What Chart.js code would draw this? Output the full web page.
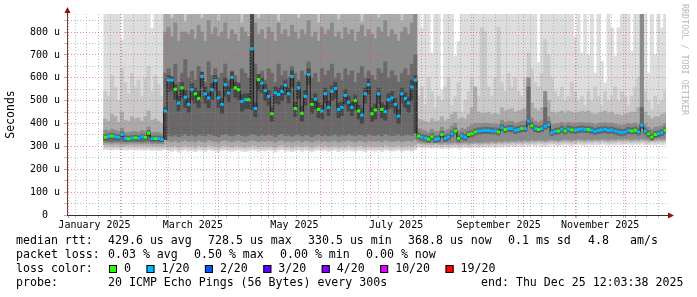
<!DOCTYPE html>
<html>
<head>
<meta charset="utf-8">
<script src="https://cdn.jsdelivr.net/npm/chart.js@4.4.1/dist/chart.umd.min.js"></script>
<style>
  html, body { margin: 0; padding: 0; background: #ffffff; }
  canvas { display: block; }
</style>
</head>
<body>
<canvas id="smokeChart" width="697" height="297"></canvas>
<script>
// days since 1 Jan 2025, one column every 2 days
const days = [
  22,24,26,28,30,32,34,36,38,40, 42,44,46,48,50,52,54,56,58,60,
  62,64,66,68,70,72,74,76,78,80, 82,84,86,88,90,92,94,96,98,100,
  102,104,106,108,110,112,114,116,118,120, 122,124,126,128,130,132,134,136,138,140,
  142,144,146,148,150,152,154,156,158,160, 162,164,166,168,170,172,174,176,178,180,
  182,184,186,188,190,192,194,196,198,200, 202,204,206,208,210,212,214,216,218,220,
  222,224,226,228,230,232,234,236,238,240, 242,244,246,248,250,252,254,256,258,260,
  262,264,266,268,270,272,274,276,278,280, 282,284,286,288,290,292,294,296,298,300,
  302,304,306,308,310,312,314,316,318,320, 322,324,326,328,330,332,334,336,338,340,
  342,344,346,348,350,352,354,356,358
];

// median rtt in microseconds
const medianRtt = [
  340,343,345,342,340,352,335,333,336,338,335,342,340,358,333,334,334,330,
  455,590,590,550,490,556,515,484,548,530,
  510,606,530,512,548,588,512,484,570,534,
  602,556,548,497,504,504,727,466,592,577,
  544,519,443,534,527,540,567,530,606,466,
  556,445,519,614,484,507,462,455,530,471,
  541,553,462,471,523,493,471,500,455,437,
  530,570,443,459,530,462,452,504,512,484,
  433,530,510,490,560,590,
  345,340,336,331,342,331,333,352,335,341,
  355,367,335,345,340,352,355,363,367,368,
  370,370,367,367,363,382,374,378,378,370,
  374,378,378,410,390,378,374,378,388,395,
  360,365,367,375,367,376,372,370,374,376,
  374,374,370,365,370,372,374,370,372,367,
  363,360,363,370,367,370,363,392,367,355,
  341,352,355,360,370
];

// lost pings per column (0 -> 0/20, 1 -> 1/20)
const lossCount = [
  0,1,0,1,1,1,1,0,1,0,1,1,0,0,1,0,1,1,
  1,1,1,0,1,0,1,1,1,0,
  0,1,1,1,1,1,1,1,1,1,
  1,0,0,1,1,0,1,1,0,1,
  1,1,0,1,1,1,1,1,1,0,
  1,0,1,1,0,1,0,1,1,1,
  1,1,1,1,1,1,1,0,0,1,
  1,1,0,0,1,0,1,1,1,1,
  1,1,1,1,1,1,
  0,1,1,0,0,1,1,0,1,1,
  1,0,0,1,1,0,0,0,1,1,
  1,1,1,1,0,1,0,1,1,1,
  1,0,1,1,0,1,0,1,1,1,
  1,1,0,1,0,1,0,1,1,1,
  1,0,1,1,1,1,1,1,1,1,
  1,1,1,1,0,0,1,1,1,0,
  0,0,1,1,0
];

// smoke bands (lowest / highest ping of each band), outermost first
const smokeALo = [
  286,285,284,286,285,284,283,285,286,284,285,283,284,285,282,283,281,282,
  288,280,278,282,276,280,284,279,281,277,
  283,280,278,285,281,279,276,282,284,280,
  278,281,283,279,277,280,284,282,278,281,
  279,283,280,276,282,285,279,281,277,280,
  283,278,282,280,276,281,284,279,282,278,
  280,283,277,281,279,284,280,278,282,281,
  277,283,280,279,282,278,284,281,279,280,
  283,278,281,282,279,285,
  296,294,292,293,291,294,292,290,293,291,
  292,294,291,293,295,292,294,296,293,295,
  297,295,298,296,299,297,300,298,301,299,
  302,300,303,301,304,302,305,303,301,304,
  306,304,302,305,307,305,303,306,308,306,
  304,307,305,308,306,309,307,305,308,306,
  309,307,310,308,306,309,307,310,308,306,
  309,307,310,308,309
];
const smokeAHi = [
  879,879,879,879,879,766,879,879,879,879,879,879,879,879,817,879,879,879,
  879,879,879,879,879,879,879,879,879,879,
  879,879,879,879,879,879,879,879,879,879,
  879,879,879,879,879,879,879,879,879,879,
  879,879,879,879,879,879,879,879,879,879,
  879,879,879,879,879,879,879,879,879,879,
  879,879,879,879,879,879,879,879,879,879,
  879,879,879,879,879,879,879,879,879,879,
  879,879,879,879,879,879,
  879,818,879,879,709,879,879,548,879,879,
  879,694,759,879,879,879,879,879,879,879,
  879,879,879,879,879,879,879,879,879,879,
  879,879,879,879,879,879,667,879,879,879,
  879,879,879,879,879,879,879,778,879,709,
  879,701,879,621,879,672,578,879,818,694,
  818,879,879,879,716,879,879,879,879,621,
  879,701,879,818,879
];
const smokeBLo = [
  295,294,293,295,294,292,293,294,295,293,294,292,293,294,291,292,290,291,
  293,289,288,291,286,290,293,289,291,287,
  292,290,288,294,290,289,286,291,293,290,
  288,291,292,289,287,290,293,291,288,290,
  289,292,290,286,291,294,289,290,287,290,
  292,288,291,290,286,290,293,289,291,288,
  290,292,287,290,289,293,290,288,291,290,
  287,292,290,289,291,288,293,290,289,290,
  292,288,290,291,289,294,
  304,302,300,301,299,302,300,298,301,299,
  300,302,299,301,303,300,302,304,301,303,
  305,303,306,304,307,305,308,306,309,307,
  310,308,311,309,312,310,313,311,309,312,
  314,312,310,313,315,313,311,314,316,314,
  312,315,313,316,314,317,315,313,316,314,
  317,315,318,316,314,317,315,318,316,314,
  317,315,318,316,317
];
const smokeBHi = [
  540,520,610,560,500,640,580,530,620,560,590,520,600,650,540,610,570,520,
  879,879,879,879,879,879,879,879,879,879,
  879,879,879,879,879,879,879,879,879,879,
  879,879,879,879,879,879,879,879,879,879,
  879,879,879,879,879,879,879,879,879,879,
  879,879,879,879,879,879,879,879,879,879,
  879,879,879,879,879,879,879,879,879,879,
  879,879,879,879,879,879,879,879,879,879,
  879,879,879,879,879,879,
  520,560,480,600,540,470,520,500,560,600,
  480,520,580,450,500,540,600,560,520,818,
  800,560,520,600,820,580,540,620,560,600,
  540,520,600,709,640,580,560,620,767,700,
  600,540,520,560,500,520,580,540,500,520,
  480,540,500,560,520,480,540,500,520,560,
  500,540,520,480,520,560,600,879,540,500,
  460,520,480,500,540
];
const smokeCLo = [
  306,305,304,306,305,304,304,305,306,304,305,303,304,305,302,303,302,302,
  306,300,299,303,297,301,305,300,302,298,
  304,301,299,306,302,300,297,303,305,301,
  299,302,304,300,298,301,305,303,299,302,
  300,304,301,297,303,306,300,302,298,301,
  304,299,303,301,297,302,305,300,303,299,
  301,304,298,302,300,305,301,299,303,302,
  298,304,301,300,303,299,305,302,300,301,
  304,299,302,303,300,306,
  312,310,308,309,307,310,308,306,309,307,
  308,310,307,309,311,308,310,312,309,311,
  313,311,314,312,315,313,316,314,317,315,
  318,316,319,317,320,318,321,319,317,320,
  322,320,318,321,323,321,319,322,324,322,
  320,323,321,324,322,325,323,321,324,322,
  325,323,326,324,322,325,323,326,324,322,
  325,323,326,324,325
];
const smokeCHi = [
  420,410,440,430,405,450,415,410,430,420,425,410,430,455,415,420,410,400,
  879,879,860,879,879,879,845,879,879,879,
  879,860,879,879,879,879,850,879,879,879,
  879,879,879,840,879,879,879,879,860,879,
  879,879,879,879,845,879,879,879,879,879,
  860,879,879,879,879,879,840,879,879,879,
  879,879,855,879,879,879,879,879,879,845,
  879,879,879,879,860,879,879,879,879,879,
  879,850,879,879,879,879,
  420,415,410,405,420,410,412,430,412,420,
  440,450,420,425,420,440,470,560,450,445,
  445,450,440,445,440,470,455,460,465,450,
  455,460,465,560,490,465,455,470,520,500,
  450,445,450,455,445,455,450,445,450,455,
  450,455,445,440,445,450,455,445,450,440,
  440,435,440,445,450,450,470,879,450,435,
  420,430,430,440,445
];
const smokeDLo = [
  316,315,314,316,315,314,313,314,315,314,315,313,314,315,312,313,312,312,
  328,322,320,325,318,323,327,321,324,319,
  326,322,320,329,324,321,318,325,327,323,
  320,324,326,322,319,323,327,325,320,324,
  322,326,323,318,325,329,321,324,319,323,
  326,320,325,323,318,324,327,321,325,320,
  323,326,319,324,322,327,323,320,325,324,
  319,326,323,322,325,320,327,324,321,323,
  326,320,324,325,322,330,
  320,318,316,317,315,318,316,314,317,315,
  316,318,315,317,319,316,318,320,317,319,
  321,319,322,320,323,321,324,322,325,323,
  326,324,327,325,328,326,329,327,325,328,
  330,328,326,329,331,329,327,330,332,330,
  328,331,329,332,330,333,331,329,332,330,
  333,331,334,332,330,333,331,334,332,330,
  333,331,334,332,333
];
const smokeDHi = [
  372,368,375,370,366,380,362,360,364,366,362,370,368,385,360,362,360,356,
  800,820,780,840,760,800,800,790,810,770,
  830,800,760,850,790,820,780,800,840,770,
  810,790,760,820,800,780,879,840,790,810,
  770,820,800,760,840,790,810,780,830,800,
  770,810,790,850,780,800,760,820,790,810,
  840,780,800,770,820,790,810,760,800,830,
  780,810,790,770,820,800,850,780,810,790,
  760,800,820,790,840,879,
  378,372,368,362,375,365,366,385,368,375,
  390,400,368,380,375,385,395,400,400,400,
  402,400,398,398,396,415,405,410,410,400,
  405,410,412,600,425,410,405,412,540,430,
  395,398,400,405,398,405,402,400,404,405,
  402,403,400,395,400,402,404,400,402,398,
  395,392,395,400,398,402,395,879,398,385,
  375,384,386,390,400
];
const smokeELo = [
  324,323,322,324,323,322,321,322,323,322,323,321,322,323,320,321,320,320,
  352,348,345,350,343,349,354,347,351,345,
  353,349,346,356,350,347,343,351,354,349,
  346,350,353,348,345,349,354,352,346,350,
  348,353,349,343,351,356,347,350,345,349,
  353,346,351,349,343,350,354,347,351,346,
  349,353,345,350,348,354,349,346,351,350,
  345,353,349,348,351,346,354,350,347,349,
  353,346,350,351,348,356,
  331,326,322,317,328,317,319,338,321,327,
  341,353,321,331,326,338,341,349,353,354,
  356,356,353,353,349,368,360,364,364,356,
  360,364,364,396,376,364,360,364,374,381,
  346,351,353,361,353,362,358,356,360,362,
  360,360,356,351,356,358,360,356,358,353,
  349,346,349,356,353,356,349,378,353,341,
  327,338,341,346,356
];
const smokeEHi = [
  352,355,357,354,352,364,347,345,348,350,347,354,352,370,345,346,346,342,
  620,640,600,660,580,620,680,600,630,590,
  650,620,580,670,610,640,600,620,660,590,
  630,610,580,640,620,600,700,660,610,630,
  590,640,620,580,660,610,630,600,650,620,
  590,630,610,670,600,620,580,640,610,630,
  660,600,620,590,640,610,630,580,620,650,
  600,630,610,590,640,620,670,600,630,610,
  580,620,640,610,660,700,
  359,354,350,345,356,345,347,366,349,355,
  369,381,349,359,354,366,369,377,381,382,
  384,384,381,381,377,396,388,392,392,384,
  388,392,392,560,404,392,388,392,470,409,
  374,379,381,389,381,390,386,384,388,390,
  388,388,384,379,384,386,388,384,386,381,
  377,374,377,384,381,384,377,470,381,369,
  355,366,369,374,384
];
const smokeFLo = [
  332,335,337,334,332,342,327,325,328,330,327,334,332,346,325,326,326,322,
  330,540,545,505,455,510,470,450,500,490,
  470,560,490,470,505,545,470,445,520,495,
  555,515,505,455,465,465,460,430,545,535,
  500,480,410,490,485,500,525,490,560,430,
  510,410,480,570,445,465,425,420,490,435,
  500,510,425,435,485,455,435,460,420,400,
  490,530,410,420,490,425,415,465,470,445,
  400,490,470,450,500,360,
  338,333,329,324,335,324,326,345,328,334,
  348,360,328,338,333,345,348,356,360,361,
  363,363,360,360,356,375,367,371,371,363,
  367,371,371,403,383,371,367,371,381,388,
  353,358,360,368,360,369,365,363,367,369,
  367,367,363,358,363,365,367,363,365,360,
  356,353,356,363,360,363,356,385,360,348,
  334,345,348,353,363
];
const smokeFHi = [
  345,348,350,347,345,357,340,338,341,343,340,347,345,362,338,339,339,335,
  470,610,605,570,520,580,545,510,575,555,
  540,625,560,535,575,610,540,510,600,560,
  625,580,575,525,530,530,879,490,615,600,
  570,545,470,560,555,565,590,555,630,495,
  580,475,545,640,510,530,490,480,555,500,
  565,580,490,495,550,520,495,525,480,465,
  555,595,470,485,555,490,480,530,540,510,
  460,555,535,515,590,610,
  350,345,341,336,347,336,338,357,340,346,
  360,372,340,350,345,357,360,368,372,373,
  375,375,372,372,368,387,379,383,383,375,
  379,383,383,415,395,383,379,383,393,400,
  365,370,372,380,372,381,377,375,379,381,
  379,379,375,370,375,377,379,375,377,372,
  368,365,368,375,372,375,368,397,372,360,
  346,357,360,365,375
];

// axis ticks
const monthStarts = [0, 31, 59, 90, 120, 151, 181, 212, 243, 273, 304, 334];
const weekStarts = [4,11,18,25,32,39,46,53,60,67,74,81,88,95,102,109,116,123,130,137,
  144,151,158,165,172,179,186,193,200,207,214,221,228,235,242,249,256,263,270,277,
  284,291,298,305,312,319,326,333,340,347,354];
const monthLabelDays = [15.5, 74.5, 135.5, 196.5, 258, 319];
const monthLabels = ['January 2025', 'March 2025', 'May 2025', 'July 2025', 'September 2025', 'November 2025'];
const yMajor = [0, 100, 200, 300, 400, 500, 600, 700, 800];
const yMinor = [50, 150, 250, 350, 450, 550, 650, 750, 850];
const yLabels = ['0  ', '100 u', '200 u', '300 u', '400 u', '500 u', '600 u', '700 u', '800 u'];

// legend
const lossLabels = ['0', '1/20', '2/20', '3/20', '4/20', '10/20', '19/20'];
const lossColors = ['#26ff00', '#00b8ff', '#0059ff', '#5e00ff', '#7e00ff', '#dd00ff', '#ff0000'];

const MONO = '"DejaVu Sans Mono", monospace';
const GRID = 'rgba(140,140,140,0.55)';
const MGRID = 'rgba(222,80,80,0.6)';
const NONE = 'rgba(0,0,0,0)';
const ARROW = '#8f1010';

const xTicks = [].concat(
  monthStarts.map(v => ({ value: v, kind: 'major' })),
  weekStarts.filter(v => monthStarts.indexOf(v) < 0).map(v => ({ value: v, kind: 'minor' })),
  monthLabelDays.map((v, i) => ({ value: v, kind: 'label', text: monthLabels[i] }))
).sort((a, b) => a.value - b.value);

const yTicks = [].concat(
  yMajor.map((v, i) => ({ value: v, kind: 'major', text: yLabels[i] })),
  yMinor.map(v => ({ value: v, kind: 'minor', text: '' }))
).sort((a, b) => a.value - b.value);

function gridColor(c) {
  if (!c.tick) return NONE;
  if (c.tick.kind === 'major') return MGRID;
  if (c.tick.kind === 'minor') return GRID;
  return NONE;
}

function smokeLayer(lo, hi, color, order) {
  return {
    type: 'bar',
    data: days.map((d, i) => ({ x: d, y: [lo[i], hi[i]] })),
    backgroundColor: color,
    borderWidth: 0,
    barThickness: 3.34,
    grouped: false,
    order: order
  };
}

// thin dark median trace, drawn under the loss-coloured marks
const medianTrace = {
  type: 'line',
  data: days.map((d, i) => ({ x: d, y: medianRtt[i] })),
  borderColor: '#1e1e1e',
  borderWidth: 1,
  stepped: 'middle',
  pointRadius: 0,
  fill: false,
  order: 1
};

function medianMarks(code, color) {
  return {
    type: 'line',
    data: days.map((d, i) => ({ x: d, y: lossCount[i] === code ? medianRtt[i] : null })),
    showLine: false,
    borderColor: color,
    backgroundColor: color,
    pointStyle: 'line',
    pointRadius: 1.75,
    pointBorderWidth: 3,
    pointBorderColor: color,
    pointHoverRadius: 0,
    order: 0
  };
}

const rrdExtras = {
  id: 'rrdExtras',
  beforeDraw(chart) {
    const c = chart.ctx;
    c.save();
    c.fillStyle = '#ffffff';
    c.fillRect(0, 0, chart.width, chart.height);
    c.restore();
  },
  afterDraw(chart) {
    const c = chart.ctx;
    const a = chart.chartArea;
    c.save();

    // axis arrows
    c.strokeStyle = '#333333';
    c.lineWidth = 1;
    c.beginPath();
    c.moveTo(a.right, a.bottom + 0.5); c.lineTo(a.right + 3, a.bottom + 0.5);
    c.moveTo(a.left + 0.5, a.top); c.lineTo(a.left + 0.5, a.top - 3);
    c.stroke();
    c.fillStyle = ARROW;
    c.beginPath();
    c.moveTo(a.right + 2, a.bottom - 2.5);
    c.lineTo(a.right + 8, a.bottom + 0.5);
    c.lineTo(a.right + 2, a.bottom + 3.5);
    c.closePath();
    c.fill();
    c.beginPath();
    c.moveTo(a.left - 2.5, a.top - 1);
    c.lineTo(a.left + 0.5, a.top - 7);
    c.lineTo(a.left + 3.5, a.top - 1);
    c.closePath();
    c.fill();

    // watermark
    c.save();
    c.translate(684, 4);
    c.rotate(Math.PI / 2);
    c.font = '8.4px ' + MONO;
    c.fillStyle = '#b8b8b8';
    c.textBaseline = 'middle';
    c.textAlign = 'left';
    c.fillText('RRDTOOL / TOBI OETIKER', 0, 0);
    c.restore();

    // legend / statistics
    c.font = '11.6px ' + MONO;
    c.fillStyle = '#000000';
    c.textBaseline = 'middle';
    c.textAlign = 'left';
    const rows = [
      { y: 241, parts: [[16, 'median rtt:'], [108, '429.6 us avg'], [208, '728.5 us max'], [308, '330.5 us min'],
                        [408, '368.8 us now'], [508, '0.1 ms sd'], [588, '4.8'], [630, 'am/s']] },
      { y: 255, parts: [[16, 'packet loss:'], [108, '0.03 % avg'], [194, '0.50 % max'], [280, '0.00 % min'], [366, '0.00 % now']] },
      { y: 269, parts: [[16, 'loss color:']] },
      { y: 283, parts: [[16, 'probe:'], [108, '20 ICMP Echo Pings (56 Bytes) every 300s'], [481, 'end: Thu Dec 25 12:03:38 2025']] }
    ];
    rows.forEach(r => r.parts.forEach(p => c.fillText(p[1], p[0], r.y)));

    let bx = 109;
    lossLabels.forEach((lab, i) => {
      c.fillStyle = lossColors[i];
      c.fillRect(bx, 265, 8, 8);
      c.strokeStyle = '#000000';
      c.strokeRect(bx + 0.5, 265.5, 7, 7);
      c.fillStyle = '#000000';
      const tx = bx + 15;
      c.fillText(lab, tx, 269);
      bx = tx + c.measureText(lab).width + 15.5;
    });

    c.restore();
  }
};

const ctx = document.getElementById('smokeChart').getContext('2d');
new Chart(ctx, {
  type: 'bar',
  data: {
    datasets: [
      medianMarks(0, lossColors[0]),
      medianMarks(1, lossColors[1]),
      medianTrace,
      smokeLayer(smokeFLo, smokeFHi, '#474747', 2),
      smokeLayer(smokeELo, smokeEHi, '#696969', 3),
      smokeLayer(smokeDLo, smokeDHi, '#8b8b8b', 4),
      smokeLayer(smokeCLo, smokeCHi, '#ababab', 5),
      smokeLayer(smokeBLo, smokeBHi, '#cacaca', 6),
      smokeLayer(smokeALo, smokeAHi, '#dddddd', 7)
    ]
  },
  options: {
    responsive: false,
    animation: false,
    events: [],
    layout: { padding: { left: 0, right: 31, top: 14, bottom: 0 } },
    plugins: {
      legend: { display: false },
      tooltip: { enabled: false }
    },
    scales: {
      x: {
        type: 'linear',
        min: -1,
        max: 358.5,
        offset: false,
        afterBuildTicks: s => { s.ticks = xTicks.map(t => Object.assign({}, t)); },
        afterFit: s => { s.height = 82; },
        grid: {
          z: 1,
          offset: false,
          color: gridColor,
          tickColor: gridColor,
          tickLength: 3,
          lineWidth: 1
        },
        border: { display: true, color: '#333333', width: 1, dash: [1, 2], z: 2 },
        ticks: {
          autoSkip: false,
          maxRotation: 0,
          minRotation: 0,
          padding: 1,
          color: '#000000',
          font: { family: MONO, size: 10 },
          callback: (v, i, ticks) => ticks[i].text || ''
        }
      },
      y: {
        min: 0,
        max: 879,
        afterBuildTicks: s => { s.ticks = yTicks.map(t => Object.assign({}, t)); },
        afterFit: s => { s.width = 67; },
        grid: {
          z: 1,
          color: gridColor,
          tickColor: gridColor,
          tickLength: 3,
          lineWidth: 1
        },
        border: { display: true, color: '#7a3a3a', width: 1, dash: [1, 2], z: 2 },
        title: {
          display: true,
          text: 'Seconds',
          color: '#000000',
          font: { family: MONO, size: 11.5 },
          padding: { top: 4, bottom: 4 }
        },
        ticks: {
          autoSkip: false,
          padding: 4,
          color: '#000000',
          font: { family: MONO, size: 10 },
          callback: (v, i, ticks) => ticks[i].text || ''
        }
      }
    }
  },
  plugins: [rrdExtras]
});
</script>
</body>
</html>
